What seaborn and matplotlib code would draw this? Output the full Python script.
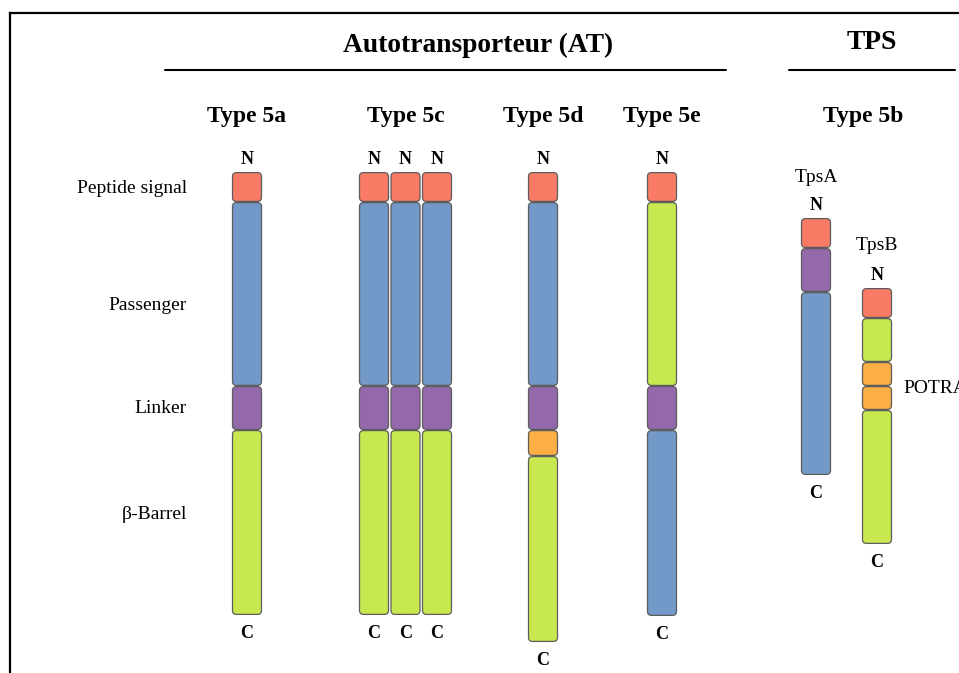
import numpy as np
import pandas as pd
import matplotlib
matplotlib.use('Agg')
import matplotlib.pyplot as plt
from matplotlib.patches import FancyBboxPatch
import seaborn as sns

# domain colours
colors = {'signal': '#F97B66', 'passenger': '#7299C7', 'linker': '#9469AC',
          'barrel': '#C8E84F', 'potra': '#FCAF45'}

# domain order and lengths (pixels) for each protein
dom_5a = ['signal', 'passenger', 'linker', 'barrel']
len_5a = [30, 184, 44, 185]
dom_5c = ['signal', 'passenger', 'linker', 'barrel']
len_5c = [30, 184, 44, 185]
dom_5d = ['signal', 'passenger', 'linker', 'potra', 'barrel']
len_5d = [30, 184, 44, 26, 186]
dom_5e = ['signal', 'barrel', 'linker', 'passenger']
len_5e = [30, 184, 44, 186]
dom_tpsa = ['signal', 'linker', 'passenger']
len_tpsa = [30, 44, 183]
dom_tpsb = ['signal', 'barrel', 'potra', 'potra', 'barrel']
len_tpsb = [30, 44, 24, 24, 134]

row_labels = ['Peptide signal', 'Passenger', 'Linker', 'β-Barrel']
type_labels = ['Type 5a', 'Type 5c', 'Type 5d', 'Type 5e', 'Type 5b']

# layout: column centre, top of first segment
proteins = [
    (dom_5a, len_5a, 247, 172),
    (dom_5c, len_5c, 374, 172),
    (dom_5c, len_5c, 405.5, 172),
    (dom_5c, len_5c, 437, 172),
    (dom_5d, len_5d, 543, 172),
    (dom_5e, len_5e, 662, 172),
    (dom_tpsa, len_tpsa, 816, 218),
    (dom_tpsb, len_tpsb, 877, 288),
]
bar_w = 30

sns.set_theme(style='white')
plt.rcParams['font.family'] = ['Liberation Serif', 'DejaVu Serif']
plt.rcParams['text.color'] = 'black'

fig = plt.figure(figsize=(9.59, 6.73), dpi=100)
ax = fig.add_axes([0, 0, 1, 1])
ax.set_xlim(0, 959)
ax.set_ylim(673, 0)
ax.axis('off')

# frame (left and top only)
ax.plot([10, 10], [673, 13], color='black', lw=1.6, solid_capstyle='projecting')
ax.plot([10, 959], [13, 13], color='black', lw=1.6, solid_capstyle='projecting')

for doms, lens, xc, y0 in proteins:
    df = pd.DataFrame({'domain': doms, 'length': lens})
    df['start'] = y0 + df['length'].cumsum() - df['length']
    for _, r in df.iterrows():
        p = FancyBboxPatch((xc - bar_w / 2 + 0.5, r['start'] + 0.6),
                           bar_w - 1, r['length'] - 1.2,
                           boxstyle='round,pad=0,rounding_size=4',
                           fc=colors[r['domain']], ec='#5c5c5c', lw=0.9)
        ax.add_patch(p)
    end = y0 + df['length'].sum()
    ax.text(xc, y0 - 8, 'N', ha='center', va='baseline', fontsize=13, fontweight='bold')
    ax.text(xc, end + 23, 'C', ha='center', va='baseline', fontsize=13, fontweight='bold')

# group titles
ax.text(478, 52, 'Autotransporteur (AT)', ha='center', va='baseline', fontsize=19.8, fontweight='bold')
ax.plot([165, 726], [70, 70], color='black', lw=1.5)
ax.text(872, 49, 'TPS', ha='center', va='baseline', fontsize=19.8, fontweight='bold')
ax.plot([789, 955], [70, 70], color='black', lw=1.5)

# type headers
for lab, xc in zip(type_labels, [247, 405.5, 543, 662, 863]):
    ax.text(xc, 122, lab, ha='center', va='baseline', fontsize=17, fontweight='bold')

# row labels
for lab, yb in zip(row_labels, [193, 310, 413, 519]):
    ax.text(187, yb, lab, ha='right', va='baseline', fontsize=14)

ax.text(816, 182, 'TpsA', ha='center', va='baseline', fontsize=14)
ax.text(877, 250, 'TpsB', ha='center', va='baseline', fontsize=14)
ax.text(903, 393, 'POTRA', ha='left', va='baseline', fontsize=14)

fig.savefig('out.png', dpi=100, facecolor='white')
